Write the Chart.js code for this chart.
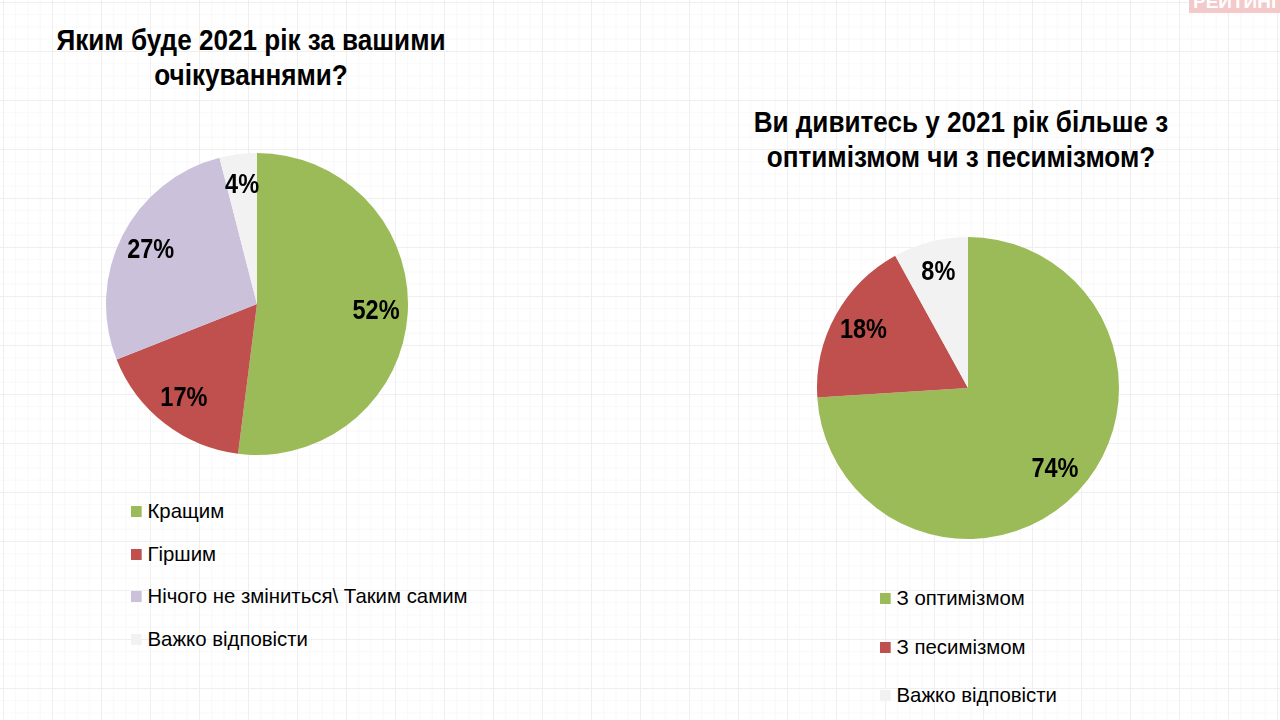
<!DOCTYPE html>
<html>
<head>
<meta charset="utf-8">
<script src="https://cdn.jsdelivr.net/npm/chart.js@4.4.0/dist/chart.umd.min.js"></script>
<style>
  html, body { margin: 0; padding: 0; }
  body {
    width: 1280px; height: 720px; overflow: hidden; position: relative;
    background-color: #fff;
    background-image:
      linear-gradient(to right, #efefef 1px, transparent 1px),
      linear-gradient(to bottom, #efefef 1px, transparent 1px),
      linear-gradient(to right, #f8f8f8 1px, transparent 1px),
      linear-gradient(to bottom, #f8f8f8 1px, transparent 1px);
    background-size: 49px 49px, 49px 49px, 12.25px 12.25px, 12.25px 12.25px;
    background-position: 3px 2px;
    font-family: "Liberation Sans", Arial, sans-serif;
  }
  .title {
    position: absolute; text-align: center; font-weight: bold;
    font-size: 30px; line-height: 35px; color: #000; white-space: nowrap;
    transform: scaleX(0.87); transform-origin: center top;
  }
  .legend { position: absolute; font-size: 21px; color: #000;
    transform: scaleX(0.97); transform-origin: left top; }
  .legend div { position: relative; height: 20px; line-height: 20px; white-space: nowrap; }
  .legend span.box { display: inline-block; width: 11px; height: 11px; margin-right: 6px; vertical-align: 1px; }
  canvas { position: absolute; }
  .logo {
    position: absolute; left: 1189px; top: -9px; width: 100px; height: 22px;
    background: #f3c9c9; color: #fff;
    font-weight: bold; font-size: 19px; line-height: 22px; padding-left: 4px;
  }
</style>
</head>
<body>
<div class="logo">РЕЙТИНГ</div>

<div class="title" style="left:1px; top:22px; width:500px;">Яким буде 2021 рік за вашими<br>очікуваннями?</div>
<div class="title" style="left:711px; top:104px; width:500px;">Ви дивитесь у 2021 рік більше з<br>оптимізмом чи з песимізмом?</div>

<canvas id="pie1" width="310" height="310" style="left:102px; top:149px;"></canvas>
<canvas id="pie2" width="310" height="310" style="left:813px; top:233px;"></canvas>

<div class="legend" id="legend1" style="left:131px; top:501px;"></div>
<div class="legend" id="legend2" style="left:880px; top:588px;"></div>

<script>
var labels1 = ["Кращим", "Гіршим", "Нічого не зміниться\\ Таким самим", "Важко відповісти"];
var values1 = [52, 17, 27, 4];
var colors1 = ["#9bbb59", "#c0504d", "#ccc1da", "#f2f2f2"];

var labels2 = ["З оптимізмом", "З песимізмом", "Важко відповісти"];
var values2 = [74, 18, 8];
var colors2 = ["#9bbb59", "#c0504d", "#f2f2f2"];

// percent labels inside the slices, condensed bold like the original
var pctLabels = {
  id: "pctLabels",
  afterDatasetsDraw: function (chart) {
    var ctx = chart.ctx;
    var meta = chart.getDatasetMeta(0);
    var data = chart.data.datasets[0].data;
    ctx.save();
    ctx.fillStyle = "#000";
    ctx.font = "bold 28px 'Liberation Sans', Arial";
    ctx.textAlign = "center";
    ctx.textBaseline = "middle";
    meta.data.forEach(function (arc, i) {
      var p = arc.getProps(["x", "y", "startAngle", "endAngle", "outerRadius"], true);
      var mid = (p.startAngle + p.endAngle) / 2;
      var d = p.outerRadius * 0.79;
      ctx.save();
      ctx.translate(p.x + Math.cos(mid) * d, p.y + Math.sin(mid) * d);
      ctx.scale(0.84, 1);
      ctx.fillText(data[i] + "%", 0, 0);
      ctx.restore();
    });
    ctx.restore();
  }
};

function makePie(id, labels, values, colors, legendId, gap) {
  var chart = new Chart(document.getElementById(id), {
    type: "pie",
    data: {
      labels: labels,
      datasets: [{ data: values, backgroundColor: colors, borderWidth: 0 }]
    },
    options: {
      responsive: false,
      animation: false,
      layout: { padding: 4 },
      plugins: { legend: { display: false }, tooltip: { enabled: false } }
    },
    plugins: [pctLabels]
  });

  var box = document.getElementById(legendId);
  labels.forEach(function (lab, i) {
    var row = document.createElement("div");
    row.style.marginBottom = gap + "px";
    row.innerHTML = '<span class="box" style="background:' + colors[i] + '"></span>' + lab;
    box.appendChild(row);
  });
  return chart;
}

makePie("pie1", labels1, values1, colors1, "legend1", 22.5);
makePie("pie2", labels2, values2, colors2, "legend2", 28.5);
</script>
</body>
</html>
